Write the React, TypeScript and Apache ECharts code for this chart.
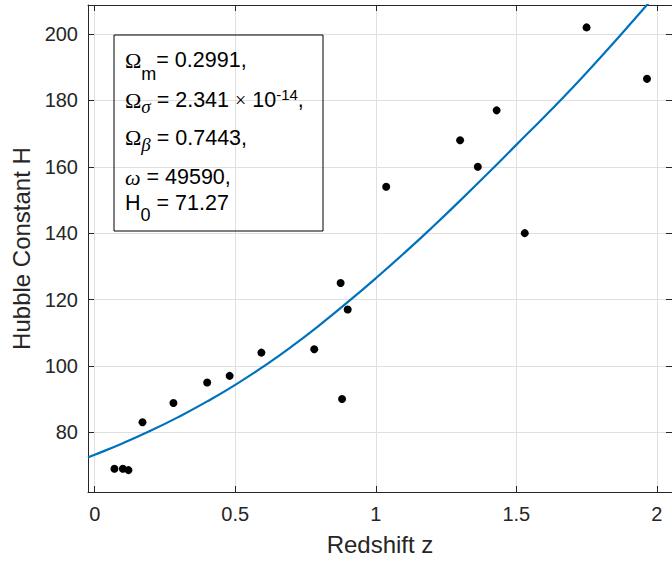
import React, { useEffect, useRef } from "react";
import * as echarts from "echarts";

// Observed Hubble data (redshift z, H)
const zObs = [0.07, 0.1, 0.12, 0.17, 0.28, 0.4, 0.48, 0.593, 0.781, 0.875, 0.88, 0.9, 1.037, 1.3, 1.363, 1.43, 1.53, 1.75, 1.965];
const hObs = [69, 69, 68.6, 83, 88.8, 95, 97, 104, 105, 125, 90, 117, 154, 168, 160, 177, 140, 202, 186.5];

// Fitted model curve
const curveZ = [-0.024, 0, 0.1, 0.2, 0.3, 0.4, 0.5, 0.6, 0.7, 0.8, 0.9, 1.0, 1.1, 1.2, 1.3, 1.4, 1.5, 1.6, 1.7, 1.8, 1.9, 2.0];
const curveH = [72.4, 73.2, 76.7, 80.5, 84.7, 89.3, 94.3, 99.8, 105.8, 112.3, 119.2, 126.4, 133.9, 141.7, 149.8, 158.1, 166.6, 175.1, 183.8, 193.0, 202.5, 212.2];

const xTicks = [0, 0.5, 1, 1.5, 2];
const yTicks = [80, 100, 120, 140, 160, 180, 200];

const xName = "Redshift z";
const yName = "Hubble Constant H";

const AX = "#262626";
const GRID = "#dfdfdf";
const SANS = "'Liberation Sans', Arial, Helvetica, sans-serif";
const SERIF = "'Liberation Serif', 'Times New Roman', serif";

const L = 46; // line box height for each text line in the box
const rich = {
  t: { fontFamily: SANS, fontSize: 21.5, lineHeight: L, color: "#000" },
  g: { fontFamily: SERIF, fontSize: 22, lineHeight: L, color: "#1a1a1a" },
  gi: { fontFamily: SERIF, fontStyle: "italic", fontSize: 22, lineHeight: L, color: "#1a1a1a" },
  x: { fontFamily: SERIF, fontSize: 20, lineHeight: L, color: "#000" },
  sub: { fontFamily: SANS, fontSize: 18, lineHeight: 8, verticalAlign: "bottom", padding: [0, 0, 0, 0], color: "#000" },
  sub0: { fontFamily: SANS, fontSize: 18, lineHeight: 8, verticalAlign: "bottom", padding: [0, 0, 2, 0], color: "#000" },
  subg: { fontFamily: SERIF, fontStyle: "italic", fontSize: 19, lineHeight: 8, verticalAlign: "bottom", padding: [0, 0, 7, 0], color: "#333" },
  sup: { fontFamily: SANS, fontSize: 15, lineHeight: 8, verticalAlign: "top", padding: [10, 0, 0, 0], color: "#000" },
};

const boxLines = [
  "{g|Ω}{sub|m}{t|= 0.2991,}",
  "{g|Ω}{subg|σ}{t| = 2.341 }{x|×}{t| 10}{sup|-14}{t|,}",
  "{g|Ω}{subg|β}{t| = 0.7443,}",
  "{gi|ω}{t| = 49590,}",
  "{t|H}{sub0|0}{t| = 71.27}",
];
const boxLineY = [60, 100, 137.5, 177, 203];

export default function App() {
  const ref = useRef<HTMLDivElement>(null);
  useEffect(() => {
    document.body.style.margin = "0";
    if (!ref.current) return;
    const chart = echarts.init(ref.current, null, { renderer: "svg" });
    const xMin = -0.024, xMax = 2.054, yMin = 62, yMax = 208.75;
    const option = {
      animation: false,
      backgroundColor: "#fff",
      grid: { left: 88, right: -1, top: 5, bottom: 75, containLabel: false },
      xAxis: [
        {
          type: "value", min: xMin, max: xMax, position: "bottom",
          name: xName, nameLocation: "middle", nameGap: 40,
          nameTextStyle: { fontFamily: SANS, fontSize: 24, color: AX },
          axisLine: { onZero: false, lineStyle: { color: AX, width: 1 } },
          axisTick: { show: true, inside: true, length: 6, customValues: xTicks, lineStyle: { color: AX } },
          axisLabel: { customValues: xTicks, formatter: (v: number) => String(v), fontFamily: SANS, fontSize: 20, color: AX, margin: 12 },
          splitLine: { show: true, lineStyle: { color: GRID, width: 1 } },
        },
        {
          type: "value", min: xMin, max: xMax, position: "top",
          axisLine: { onZero: false, lineStyle: { color: AX, width: 1 } },
          axisTick: { show: true, inside: true, length: 6, customValues: xTicks, lineStyle: { color: AX } },
          axisLabel: { show: false },
          splitLine: { show: false },
        },
      ],
      yAxis: [
        {
          type: "value", min: yMin, max: yMax, position: "left",
          name: yName, nameLocation: "middle", nameGap: 52,
          nameTextStyle: { fontFamily: SANS, fontSize: 24, color: AX },
          axisLine: { show: true, onZero: false, lineStyle: { color: AX, width: 1 } },
          axisTick: { show: true, inside: true, length: 6, customValues: yTicks, lineStyle: { color: AX } },
          axisLabel: { customValues: yTicks, fontFamily: SANS, fontSize: 20, color: AX, margin: 10 },
          splitLine: { show: true, lineStyle: { color: GRID, width: 1 } },
        },
        {
          type: "value", min: yMin, max: yMax, position: "right",
          axisLine: { show: true, onZero: false, lineStyle: { color: AX, width: 1 } },
          axisTick: { show: true, inside: true, length: 6, customValues: yTicks, lineStyle: { color: AX } },
          axisLabel: { show: false },
          splitLine: { show: false },
        },
      ],
      series: [
        {
          type: "scatter",
          xAxisIndex: 0, yAxisIndex: 0,
          data: zObs.map((z, i) => [z, hObs[i]]),
          symbol: "circle", symbolSize: 8,
          itemStyle: { color: "#000", opacity: 1 },
          z: 3,
        },
        {
          type: "line",
          xAxisIndex: 0, yAxisIndex: 0,
          data: curveZ.map((z, i) => [z, curveH[i]]),
          showSymbol: false, smooth: true, clip: true,
          lineStyle: { color: "#0072BD", width: 2.2 },
          z: 4,
        },
      ],
      graphic: [
        {
          type: "rect", z: 10,
          shape: { x: 114, y: 35, width: 209, height: 196 },
          style: { fill: "none", stroke: "#000", lineWidth: 1 },
        },
        ...boxLines.map((txt, i) => ({
          type: "text", x: 125, y: boxLineY[i], z: 11,
          style: { text: txt, rich, verticalAlign: "middle", align: "left" },
        })),
      ],
    };
    chart.setOption(option as any);
    return () => chart.dispose();
  }, []);
  return <div ref={ref} style={{ width: 672, height: 567 }} />;
}
